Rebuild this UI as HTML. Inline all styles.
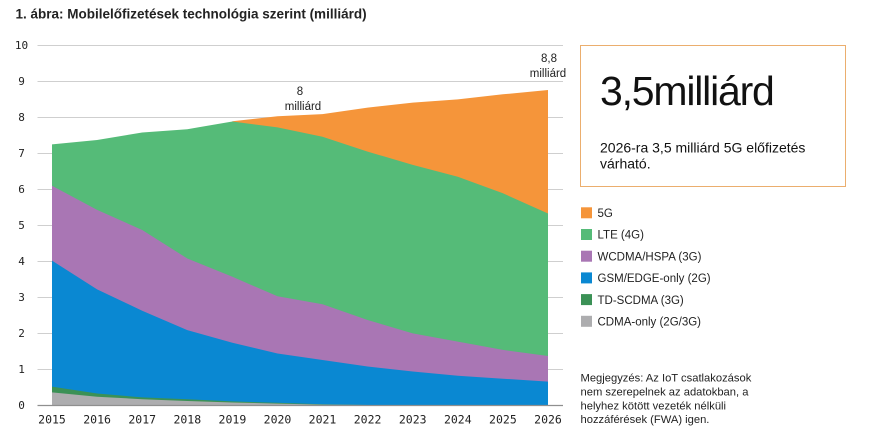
<!DOCTYPE html>
<html><head><meta charset="utf-8"><style>
html,body{margin:0;padding:0;background:#fff;}
body{width:880px;height:439px;overflow:hidden;position:relative;font-family:"Liberation Sans",sans-serif;}
svg{position:absolute;left:0;top:0;}
</style></head><body>
<svg width="880" height="439" viewBox="0 0 880 439" xmlns="http://www.w3.org/2000/svg">
<text x="15.5" y="18.3" font-family="Liberation Sans, sans-serif" font-weight="bold" font-size="13.5" fill="#222">1. ábra: Mobilelőfizetések technológia szerint (milliárd)</text>
<g stroke="#cfcfcf" stroke-width="1">
<line x1="37.5" y1="45.5" x2="563" y2="45.5"/>
<line x1="37.5" y1="81.5" x2="563" y2="81.5"/>
<line x1="37.5" y1="117.5" x2="563" y2="117.5"/>
<line x1="37.5" y1="153.5" x2="563" y2="153.5"/>
<line x1="37.5" y1="189.5" x2="563" y2="189.5"/>
<line x1="37.5" y1="225.5" x2="563" y2="225.5"/>
<line x1="37.5" y1="261.5" x2="563" y2="261.5"/>
<line x1="37.5" y1="297.5" x2="563" y2="297.5"/>
<line x1="37.5" y1="333.5" x2="563" y2="333.5"/>
<line x1="37.5" y1="369.5" x2="563" y2="369.5"/>
</g>
<polygon fill="#F5953A" points="232.4,121.3 277.5,116.3 322.5,114.1 367.6,107.6 412.7,102.6 457.8,99.4 502.9,94.3 548,90 548,405 232.4,405"/>
<polygon fill="#55BB78" points="52,144.4 97.1,140 142.2,132.5 187.3,129.2 232.4,121.5 277.5,127.4 322.5,136.8 367.6,151.6 412.7,164.9 457.8,176.8 502.9,193.3 548,213.5 548,405 52,405"/>
<polygon fill="#A976B4" points="52,185.8 97.1,209.9 142.2,230 187.3,258.5 232.4,276.8 277.5,296.3 322.5,304.2 367.6,320 412.7,333.4 457.8,341.6 502.9,349.9 548,356 548,405 52,405"/>
<polygon fill="#0A88D2" points="52,260.6 97.1,289.4 142.2,310.7 187.3,330.1 232.4,342.7 277.5,353.5 322.5,360 367.6,366.5 412.7,371.5 457.8,375.8 502.9,378.7 548,381.6 548,405 52,405"/>
<polygon fill="#3B9156" points="52,386.6 97.1,393.5 142.2,397.4 187.3,399.2 232.4,401.4 277.5,402.8 322.5,404.3 367.6,405 548,405 52,405"/>
<polygon fill="#ADADAF" points="52,392.4 97.1,396.7 142.2,399.2 187.3,401 232.4,402.5 277.5,403.6 322.5,404.6 367.6,405 548,405 52,405"/>
<line x1="37.5" y1="405.5" x2="563" y2="405.5" stroke="#8f8f8f" stroke-width="1.3"/>
<g font-family="DejaVu Sans Mono, Liberation Mono, monospace" font-size="11" fill="#222" text-anchor="middle">
<text x="21.5" y="49">10</text>
<text x="21.5" y="85">9</text>
<text x="21.5" y="121">8</text>
<text x="21.5" y="157">7</text>
<text x="21.5" y="193">6</text>
<text x="21.5" y="229">5</text>
<text x="21.5" y="265">4</text>
<text x="21.5" y="301">3</text>
<text x="21.5" y="337">2</text>
<text x="21.5" y="373">1</text>
<text x="21.5" y="409">0</text>
</g>
<g font-family="DejaVu Sans Mono, Liberation Mono, monospace" font-size="11.5" fill="#222" text-anchor="middle">
<text x="52" y="423.3">2015</text>
<text x="97.1" y="423.3">2016</text>
<text x="142.2" y="423.3">2017</text>
<text x="187.3" y="423.3">2018</text>
<text x="232.4" y="423.3">2019</text>
<text x="277.5" y="423.3">2020</text>
<text x="322.5" y="423.3">2021</text>
<text x="367.6" y="423.3">2022</text>
<text x="412.7" y="423.3">2023</text>
<text x="457.8" y="423.3">2024</text>
<text x="502.9" y="423.3">2025</text>
<text x="548" y="423.3">2026</text>
</g>
<g font-family="Liberation Sans, sans-serif" font-size="11.5" fill="#222" text-anchor="middle">
<text x="300" y="95">8</text>
<text x="303" y="110">milliárd</text>
<text x="549" y="62">8,8</text>
<text x="548" y="77">milliárd</text>
</g>
<rect x="580.5" y="45.5" width="265" height="141" fill="none" stroke="#EBAE6E" stroke-width="1"/>
<text x="600" y="105" font-family="Liberation Sans, sans-serif" font-size="41" letter-spacing="-1.2" fill="#111">3,5milliárd</text>
<text x="600" y="152.7" font-family="Liberation Sans, sans-serif" font-size="14" fill="#111">2026-ra 3,5 milliárd 5G előfizetés</text>
<text x="600" y="168.7" font-family="Liberation Sans, sans-serif" font-size="14" fill="#111">várható.</text>
<rect x="581" y="207.3" width="11" height="11" fill="#F5953A"/>
<rect x="581" y="229" width="11" height="11" fill="#55BB78"/>
<rect x="581" y="250.7" width="11" height="11" fill="#A976B4"/>
<rect x="581" y="272.4" width="11" height="11" fill="#0A88D2"/>
<rect x="581" y="294.1" width="11" height="11" fill="#3B9156"/>
<rect x="581" y="315.8" width="11" height="11" fill="#ADADAF"/>
<g font-family="Liberation Sans, sans-serif" font-size="11.5" fill="#222">
<text x="597.5" y="217">5G</text>
<text x="597.5" y="238.7">LTE (4G)</text>
<text x="597.5" y="260.4">WCDMA/HSPA (3G)</text>
<text x="597.5" y="282.1">GSM/EDGE-only (2G)</text>
<text x="597.5" y="303.8">TD-SCDMA (3G)</text>
<text x="597.5" y="325.5">CDMA-only (2G/3G)</text>
</g>
<g font-family="Liberation Sans, sans-serif" font-size="11.2" fill="#222">
<text x="580.5" y="381.7">Megjegyzés: Az IoT csatlakozások</text>
<text x="580.5" y="395.5">nem szerepelnek az adatokban, a</text>
<text x="580.5" y="409.3">helyhez kötött vezeték nélküli</text>
<text x="580.5" y="423.1">hozzáférések (FWA) igen.</text>
</g>
</svg>
</body></html>
